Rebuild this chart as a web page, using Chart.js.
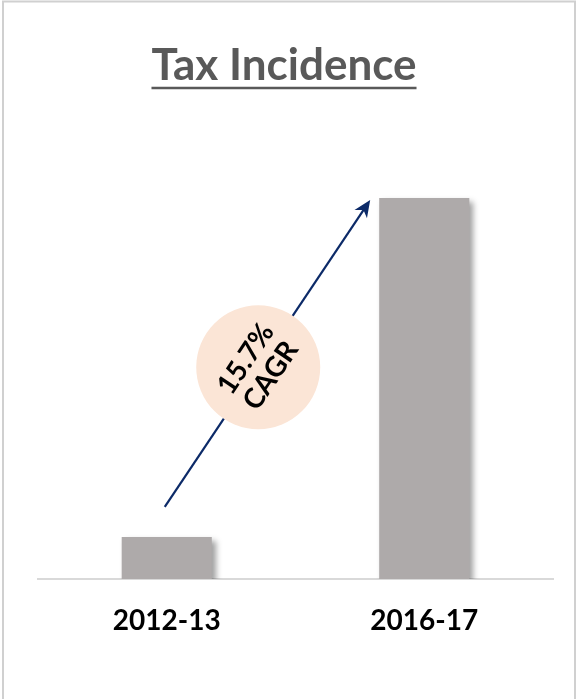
<!DOCTYPE html>
<html>
<head>
<meta charset="utf-8">
<script src="https://cdn.jsdelivr.net/npm/chart.js@4/dist/chart.umd.min.js"></script>
<style>
  html, body { margin: 0; padding: 0; background: #ffffff; }
  #wrap { width: 578px; height: 699px; position: relative; }
</style>
</head>
<body>
<div id="wrap"><canvas id="c" width="578" height="699"></canvas></div>
<script>
// Fiscal years and tax incidence values
const categories = ['2012-13', '2016-17'];
const taxIncidence = [4.2, 38.0];
const titleText = 'Tax Incidence';
const growthLabel = ['15.7%', 'CAGR'];

const FONT = "Lato, 'Open Sans', sans-serif";

// Drop shadow under the bars
const barShadow = {
  id: 'barShadow',
  beforeDatasetsDraw(chart) {
    const ctx = chart.ctx;
    ctx.save();
    ctx.shadowColor = 'rgba(0,0,0,0.38)';
    ctx.shadowBlur = 6;
    ctx.shadowOffsetX = 4;
    ctx.shadowOffsetY = 4;
  },
  afterDatasetsDraw(chart) {
    chart.ctx.restore();
  }
};

// Frame, underlined title, growth arrow and CAGR badge
const decorations = {
  id: 'decorations',
  afterDraw(chart) {
    const ctx = chart.ctx;
    const W = chart.width;

    // outer frame
    ctx.save();
    ctx.strokeStyle = '#d0d0d0';
    ctx.lineWidth = 2;
    ctx.strokeRect(3, 1.5, W - 6, chart.height + 20);
    ctx.restore();

    // title with underline
    ctx.save();
    ctx.font = 'bold 44px ' + FONT;
    ctx.fillStyle = '#595959';
    ctx.textAlign = 'center';
    ctx.textBaseline = 'alphabetic';
    const tx = 284, base = 80;
    ctx.fillText(titleText, tx, base);
    const tw = ctx.measureText(titleText).width;
    ctx.strokeStyle = '#595959';
    ctx.lineWidth = 2.5;
    ctx.beginPath();
    ctx.moveTo(tx - tw / 2, 88);
    ctx.lineTo(tx + tw / 2, 88);
    ctx.stroke();
    ctx.restore();

    // growth arrow from the first bar to the second
    const meta = chart.getDatasetMeta(0);
    const b0 = meta.data[0], b1 = meta.data[1];
    const x0 = b0.x - 2, y0 = b0.y - 30;
    const x1 = b1.x - b1.width / 2 - 9, y1 = b1.y + 2;
    const ang = Math.atan2(y1 - y0, x1 - x0);
    const len = Math.hypot(x1 - x0, y1 - y0);

    ctx.save();
    ctx.translate(x0, y0);
    ctx.rotate(ang);
    ctx.strokeStyle = '#0c2a68';
    ctx.fillStyle = '#0c2a68';
    ctx.lineWidth = 2.2;
    ctx.beginPath();
    ctx.moveTo(0, 0);
    ctx.lineTo(len - 10, 0);
    ctx.stroke();
    ctx.beginPath();
    ctx.moveTo(len, 0);
    ctx.lineTo(len - 17, -7.5);
    ctx.lineTo(len - 12, 0);
    ctx.lineTo(len - 17, 7.5);
    ctx.closePath();
    ctx.fill();
    ctx.restore();

    // CAGR badge on the arrow
    const t = 0.455;
    const cx = x0 + (x1 - x0) * t, cy = y0 + (y1 - y0) * t;
    ctx.save();
    ctx.fillStyle = '#fbe5d6';
    ctx.beginPath();
    ctx.arc(cx, cy, 62, 0, Math.PI * 2);
    ctx.fill();
    ctx.translate(cx, cy);
    ctx.rotate(ang);
    ctx.fillStyle = '#000000';
    ctx.font = 'bold 28px ' + FONT;
    ctx.textAlign = 'center';
    ctx.textBaseline = 'middle';
    ctx.fillText(growthLabel[0], 0, -15);
    ctx.fillText(growthLabel[1], 0, 15);
    ctx.restore();
  }
};

new Chart(document.getElementById('c'), {
  type: 'bar',
  data: {
    labels: categories,
    datasets: [{
      data: taxIncidence,
      backgroundColor: '#aeaaaa',
      borderWidth: 0,
      barPercentage: 0.35,
      categoryPercentage: 1.0
    }]
  },
  options: {
    responsive: false,
    animation: false,
    events: [],
    layout: { padding: { top: 178, left: 38, right: 25, bottom: 36.4 } },
    plugins: {
      legend: { display: false },
      title: { display: false },
      tooltip: { enabled: false }
    },
    scales: {
      x: {
        grid: { display: false, drawTicks: false },
        border: { display: true, color: '#d9d9d9', width: 2 },
        ticks: {
          padding: 25,
          color: '#000000',
          font: { family: FONT, size: 28, weight: 'bold' }
        }
      },
      y: {
        display: false,
        min: 0,
        max: 40
      }
    }
  },
  plugins: [barShadow, decorations]
});
</script>
</body>
</html>
